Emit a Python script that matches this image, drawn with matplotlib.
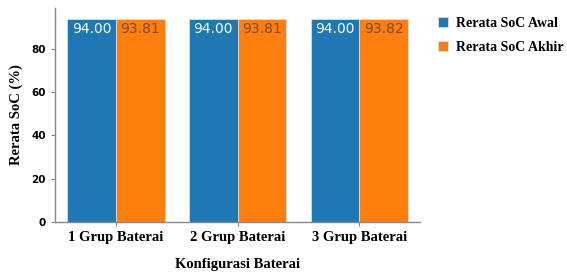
import matplotlib
matplotlib.use("Agg")
import matplotlib.pyplot as plt
import numpy as np

categories = ["1 Grup Baterai", "2 Grup Baterai", "3 Grup Baterai"]
soc_awal = [94.00, 94.00, 94.00]
soc_akhir = [93.81, 93.81, 93.82]

serif = "Liberation Serif"

fig = plt.figure(figsize=(5.67, 2.72), dpi=100)
ax = fig.add_axes([0.097, 0.184, 0.644, 0.787])

x = np.arange(len(categories))
w = 0.4
b1 = ax.bar(x - w / 2, soc_awal, w, color="#1f77b4", edgecolor="#dddddd", linewidth=0.6,
            label="Rerata SoC Awal")
b2 = ax.bar(x + w / 2, soc_akhir, w, color="#ff7f0e", edgecolor="#dddddd", linewidth=0.6,
            label="Rerata SoC Akhir")

for rects, vals, col in [(b1, soc_awal, "white"), (b2, soc_akhir, "#7a4a22")]:
    for r, v in zip(rects, vals):
        ax.text(r.get_x() + r.get_width() / 2, r.get_height() - 1.5, f"{v:.2f}",
                ha="center", va="top", fontsize=10, color=col)

ax.set_xlim(-0.5, 2.5)
ax.set_ylim(0, 99)
ax.set_yticks([0, 20, 40, 60, 80])
ax.set_xticks(x)
ax.set_xticklabels(categories, fontfamily=serif, fontweight="bold", fontsize=10.5)
for t in ax.get_yticklabels():
    t.set_fontfamily("DejaVu Sans")
    t.set_fontweight("bold")
    t.set_fontsize(7.5)
ax.set_ylabel("Rerata SoC (%)", fontfamily=serif, fontweight="bold", fontsize=10.5,
              labelpad=6)
ax.set_xlabel("Konfigurasi Baterai", fontfamily=serif, fontweight="bold", fontsize=10.5,
              labelpad=10)

for s in ["top", "right"]:
    ax.spines[s].set_visible(False)
for s in ["left", "bottom"]:
    ax.spines[s].set_color("#888888")
    ax.spines[s].set_linewidth(1.0)
ax.tick_params(colors="#888888", length=3, labelcolor="black")

ax.legend(loc="upper left", bbox_to_anchor=(1.015, 1.015), frameon=False,
          prop={"family": serif, "weight": "bold", "size": 10},
          handlelength=0.7, handleheight=0.7, handletextpad=0.6, labelspacing=0.75)

fig.savefig("out.png", dpi=100)
